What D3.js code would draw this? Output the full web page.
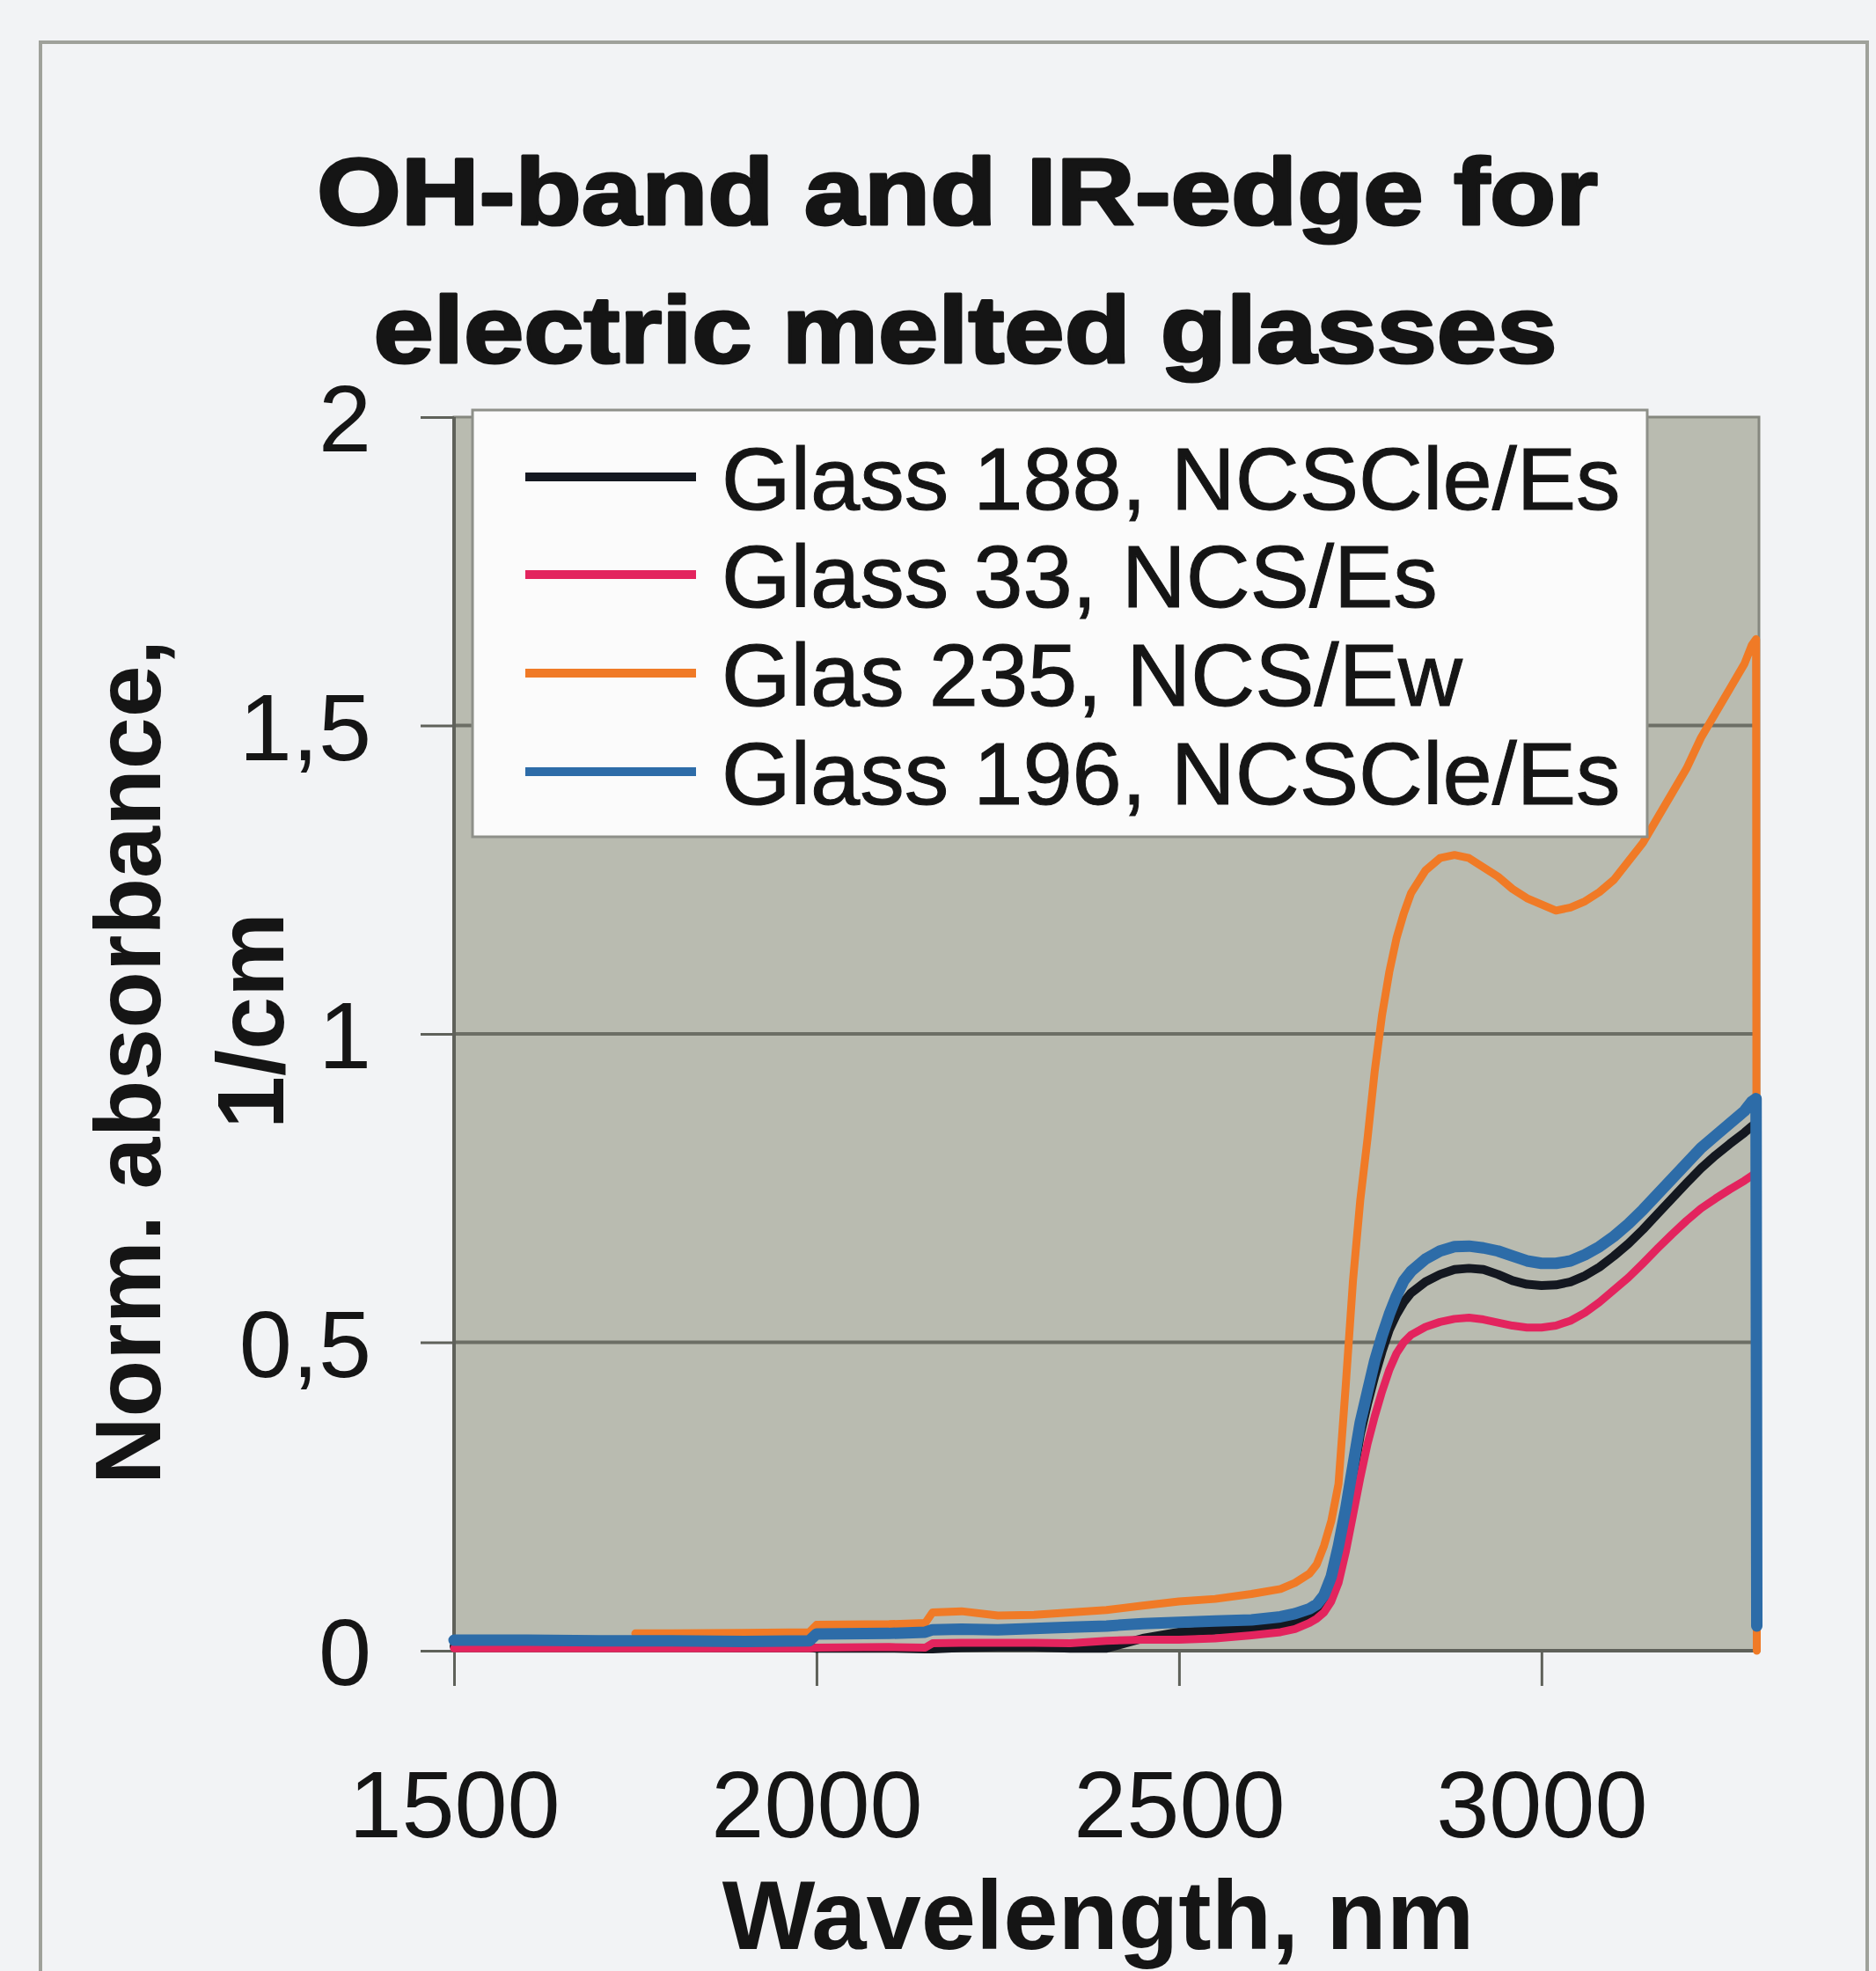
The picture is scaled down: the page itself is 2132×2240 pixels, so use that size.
<!DOCTYPE html>
<html>
<head>
<meta charset="utf-8">
<script src="https://cdn.jsdelivr.net/npm/d3@7"></script>
<style>
  html, body { margin: 0; padding: 0; background: #f2f3f5; }
  svg { display: block; }
</style>
</head>
<body>
<svg id="chart" width="2132" height="2240"></svg>
<script>
// Wavelength grid (nm) shared by all four absorbance spectra
const wavelength = [1500, 1600, 1700, 1750, 1800, 1900, 1990, 2000, 2100, 2150, 2160, 2200, 2250, 2300, 2350, 2400, 2450, 2500, 2550, 2600,
  2640, 2660, 2680, 2690, 2700, 2710, 2720, 2730, 2740, 2750, 2760, 2770, 2780, 2790, 2800, 2810, 2820, 2840, 2860, 2880,
  2900, 2920, 2940, 2960, 2980, 3000, 3020, 3040, 3060, 3080, 3100, 3120, 3140, 3160, 3180, 3200, 3220, 3240, 3260, 3280,
  3290, 3296, 3297];

// Normalised absorbance, 1/cm
const glass188 = [0.007, 0.006, 0.006, 0.006, 0.006, 0.005, 0.005, 0.004, 0.004, 0.003, 0.003, 0.005, 0.006, 0.006, 0.004, 0.004, 0.020, 0.030, 0.033, 0.036,
  0.040, 0.045, 0.052, 0.060, 0.073, 0.100, 0.150, 0.210, 0.280, 0.350, 0.400, 0.445, 0.485, 0.520, 0.545, 0.565, 0.580, 0.598, 0.610, 0.618,
  0.620, 0.618, 0.610, 0.600, 0.594, 0.592, 0.593, 0.598, 0.608, 0.622, 0.640, 0.660, 0.683, 0.708, 0.733, 0.758, 0.782, 0.803, 0.822, 0.840,
  0.850, 0.855, 0.040];

const glass33 = [0.004, 0.004, 0.004, 0.004, 0.004, 0.004, 0.004, 0.005, 0.006, 0.005, 0.012, 0.013, 0.013, 0.013, 0.012, 0.016, 0.018, 0.018, 0.020, 0.025,
  0.030, 0.035, 0.045, 0.052, 0.062, 0.080, 0.110, 0.160, 0.220, 0.280, 0.335, 0.380, 0.420, 0.455, 0.482, 0.500, 0.512, 0.525, 0.533, 0.538,
  0.540, 0.537, 0.532, 0.527, 0.524, 0.524, 0.527, 0.535, 0.548, 0.565, 0.585, 0.605, 0.628, 0.652, 0.675, 0.697, 0.717, 0.733, 0.748, 0.762,
  0.770, 0.775, 0.040];

const glas235 = [null, null, null, 0.028, 0.028, 0.029, 0.030, 0.042, 0.043, 0.045, 0.062, 0.064, 0.057, 0.058, 0.062, 0.066, 0.073, 0.080, 0.084, 0.092,
  0.100, 0.110, 0.125, 0.140, 0.170, 0.210, 0.270, 0.430, 0.600, 0.730, 0.830, 0.940, 1.030, 1.100, 1.155, 1.195, 1.228, 1.265, 1.285, 1.290,
  1.285, 1.270, 1.255, 1.235, 1.220, 1.210, 1.200, 1.205, 1.215, 1.230, 1.250, 1.280, 1.310, 1.350, 1.390, 1.430, 1.480, 1.520, 1.560, 1.600,
  1.630, 1.640, 0.000];

const glass196 = [0.017, 0.017, 0.016, 0.016, 0.016, 0.015, 0.016, 0.027, 0.028, 0.030, 0.034, 0.035, 0.034, 0.036, 0.038, 0.040, 0.044, 0.046, 0.048, 0.050,
  0.055, 0.060, 0.068, 0.075, 0.090, 0.120, 0.170, 0.230, 0.300, 0.370, 0.420, 0.470, 0.510, 0.545, 0.575, 0.600, 0.615, 0.635, 0.648, 0.655,
  0.656, 0.653, 0.648, 0.640, 0.632, 0.628, 0.628, 0.632, 0.642, 0.655, 0.672, 0.692, 0.715, 0.740, 0.765, 0.790, 0.815, 0.835, 0.855, 0.875,
  0.890, 0.895, 0.040];

const seriesNames = ["Glass 188, NCSCle/Es", "Glass 33, NCS/Es", "Glas 235, NCS/Ew", "Glass 196, NCSCle/Es"];
const seriesValues = [glass188, glass33, glas235, glass196];
const seriesColors = ["#141820", "#e3245e", "#f07a26", "#2d6ca8"];
const seriesWidths = [10, 9, 9, 13];

const xTicks = [1500, 2000, 2500, 3000];
const yTicks = [0, 0.5, 1, 1.5, 2];
const titleLines = ["OH-band and IR-edge for", "electric melted glasses"];
const yTitleLines = ["Norm. absorbance,", "1/cm"];
const xTitle = "Wavelength, nm";

const svg = d3.select("#chart");
const FONT = "'Liberation Sans', Arial, Helvetica, sans-serif";
const INK = "#151515";

// Plot rectangle
const plot = { left: 516, right: 1999, top: 474, bottom: 1876 };
const x = d3.scaleLinear().domain([1500, 3300]).range([plot.left, plot.right]);
const y = d3.scaleLinear().domain([0, 2]).range([plot.bottom, plot.top]);

// Page background and outer frame
svg.append("rect").attr("width", 2132).attr("height", 2240).attr("fill", "#f2f3f5");
svg.append("rect")
  .attr("x", 46).attr("y", 48).attr("width", 2076).attr("height", 2300)
  .attr("fill", "none").attr("stroke", "#9fa19a").attr("stroke-width", 4);

// Title (heavy face, widened to the printed line lengths)
const titleG = svg.append("g").attr("font-family", FONT).attr("font-weight", "bold")
  .attr("fill", INK).attr("stroke", INK).attr("stroke-width", 3).attr("stroke-linejoin", "round");
const titleSpecs = [
  { cx: 1088, base: 255, len: 1456 },
  { cx: 1097, base: 412, len: 1345 }
];
titleLines.forEach((t, i) => {
  titleG.append("text")
    .attr("x", titleSpecs[i].cx).attr("y", titleSpecs[i].base)
    .attr("text-anchor", "middle")
    .attr("font-size", 108)
    .attr("textLength", titleSpecs[i].len)
    .attr("lengthAdjust", "spacingAndGlyphs")
    .text(t);
});

// Plot area
svg.append("rect")
  .attr("x", plot.left).attr("y", plot.top)
  .attr("width", plot.right - plot.left).attr("height", plot.bottom - plot.top)
  .attr("fill", "#b9bbb0").attr("stroke", "#85877f").attr("stroke-width", 3);

// Horizontal gridlines
svg.append("g")
  .selectAll("line")
  .data(yTicks.filter(d => d > 0 && d < 2))
  .join("line")
  .attr("x1", plot.left).attr("x2", plot.right)
  .attr("y1", d => y(d)).attr("y2", d => y(d))
  .attr("stroke", "#6c6e65").attr("stroke-width", 4);

// Axes
const fmtComma = d => String(d).replace(".", ",");
const yAxis = d3.axisLeft(y).tickValues(yTicks).tickSize(38).tickPadding(56).tickFormat(fmtComma);
const xAxis = d3.axisBottom(x).tickValues(xTicks).tickSize(40).tickPadding(0).tickFormat(d3.format("d"));

const yG = svg.append("g").attr("transform", `translate(${plot.left},0)`).call(yAxis);
const xG = svg.append("g").attr("transform", `translate(0,${plot.bottom})`).call(xAxis);

[yG, xG].forEach(g => {
  g.select(".domain").attr("stroke", "#5f615a").attr("stroke-width", 4);
  g.selectAll(".tick line").attr("stroke", "#5f615a").attr("stroke-width", 3);
  g.selectAll(".tick text")
    .attr("font-family", FONT).attr("font-size", 108).attr("fill", INK);
});
yG.select(".domain").attr("d", `M0,${plot.top}V${plot.bottom}`);
xG.select(".domain").attr("d", `M${plot.left},0H${plot.right}`);
yG.selectAll(".tick text").attr("dy", "0.36em");
xG.selectAll(".tick text").attr("y", 212).attr("dy", 0);

// Spectra
const line = d3.line()
  .defined(d => d[1] !== null)
  .x(d => x(d[0]))
  .y(d => y(d[1]));

const linesG = svg.append("g").attr("fill", "none").attr("stroke-linejoin", "round").attr("stroke-linecap", "round");
seriesValues.forEach((vals, i) => {
  linesG.append("path")
    .datum(wavelength.map((w, j) => [w, vals[j]]))
    .attr("d", line)
    .attr("stroke", seriesColors[i])
    .attr("stroke-width", seriesWidths[i]);
});

// Legend
const legend = { x: 537, y: 466, w: 1335, h: 485 };
const legG = svg.append("g");
legG.append("rect")
  .attr("x", legend.x).attr("y", legend.y).attr("width", legend.w).attr("height", legend.h)
  .attr("fill", "#fbfbfb").attr("stroke", "#8e9089").attr("stroke-width", 3);
const rowCenters = [542, 653, 765, 877];
seriesNames.forEach((name, i) => {
  legG.append("line")
    .attr("x1", 597).attr("x2", 791)
    .attr("y1", rowCenters[i]).attr("y2", rowCenters[i])
    .attr("stroke", seriesColors[i]).attr("stroke-width", 10);
  legG.append("text")
    .attr("x", 820).attr("y", rowCenters[i] + 37)
    .attr("font-family", FONT).attr("font-size", 101).attr("fill", INK)
    .attr("stroke", INK).attr("stroke-width", 1)
    .text(name);
});

// Axis titles
const axisTitleG = svg.append("g").attr("font-family", FONT).attr("font-weight", "bold").attr("fill", INK);
axisTitleG.append("text")
  .attr("x", 1248).attr("y", 2215)
  .attr("font-size", 112)
  .attr("text-anchor", "middle")
  .text(xTitle);
const yTitlePos = [{ bx: 182, cy: 1207, size: 106 }, { bx: 322, cy: 1160, size: 108 }];
yTitleLines.forEach((t, i) => {
  axisTitleG.append("text")
    .attr("transform", `translate(${yTitlePos[i].bx},${yTitlePos[i].cy}) rotate(-90)`)
    .attr("text-anchor", "middle")
    .attr("font-size", yTitlePos[i].size)
    .text(t);
});
</script>
</body>
</html>
